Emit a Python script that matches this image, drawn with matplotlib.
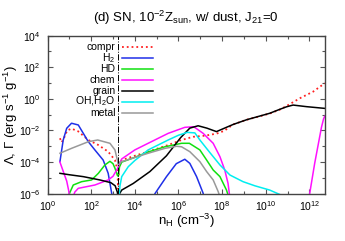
import numpy as np
import matplotlib
matplotlib.use("Agg")
import matplotlib.pyplot as plt
from matplotlib.ticker import LogLocator, FuncFormatter, NullFormatter

plt.rcParams["font.family"] = ["Liberation Sans", "DejaVu Sans"]
plt.rcParams["mathtext.fontset"] = "custom"
plt.rcParams["mathtext.rm"] = "Liberation Sans"
plt.rcParams["mathtext.it"] = "Liberation Sans:italic"
plt.rcParams["mathtext.default"] = "regular"

# ── Data (log10 n_H, log10 rate) ────────────────────────────────────────────
compr_logn = [0.57, 0.65, 0.75, 0.9, 1.1, 1.4, 1.87, 2.33, 2.78, 3.09, 3.2, 3.24,
              3.28, 3.4, 4.0, 4.61, 5.53, 6.14, 6.67, 7.2, 7.74, 8.1, 8.5, 9.12,
              10.18, 10.64, 10.95, 11.56, 12.17, 12.7]
compr_logL = [-2.49, -2.75, -2.5, -2.0, -1.88, -2.05, -2.6, -2.92, -3.34, -3.87, -4.5, -5.7,
              -4.2, -3.87, -3.6, -3.34, -2.92, -2.6, -2.4, -2.33, -2.2, -2.02, -1.62, -1.32,
              -0.93, -0.68, -0.45, 0.04, 0.46, 0.99]

h2_logn = [0.57, 0.72, 0.88, 1.1, 1.41, 1.87, 2.17, 2.55, 2.78, 2.94, 3.0,
           4.85, 4.92, 5.45, 5.9, 6.29, 6.52, 6.83, 7.13, 7.2]
h2_logL = [-3.97, -2.6, -1.86, -1.54, -1.65, -2.71, -3.23, -3.87, -4.71, -5.97, -6.5,
           -6.5, -6.0, -4.92, -4.1, -3.82, -4.08, -4.92, -5.97, -6.5]

hd_logn = [0.95, 1.0, 1.18, 1.56, 2.02, 2.33, 2.63, 2.86, 3.0, 3.09, 3.2, 3.24,
           3.3, 3.4, 4.0, 4.61, 5.38, 6.14, 6.5, 6.98, 7.29, 7.59, 7.9, 8.2, 8.3]
hd_logL = [-6.3, -6.0, -5.45, -5.24, -5.13, -4.71, -4.18, -3.95, -4.1, -4.39, -4.8, -4.9,
           -4.3, -4.0, -3.7, -3.36, -3.03, -2.81, -2.81, -3.23, -3.87, -4.5, -4.92, -5.77, -6.2]

chem_logn = [0.57, 0.75, 0.88, 0.97, 1.02, None,
             1.15, 1.25, 1.41, 2.17, 2.78, 3.0, 3.17, 3.24, 3.4, 4.0, 4.61, 5.53, 6.29,
             6.7, 7.13, 7.59, 7.9, 8.12, 8.27, 8.35, None,
             11.98, 12.01, 12.24, 12.47, 12.55, 12.65, 12.7]
chem_logL = [-4.0, -4.7, -5.2, -5.8, -6.3, None,
             -6.3, -5.9, -5.66, -5.45, -5.13, -4.9, -4.5, -4.3, -3.8, -3.23, -2.81, -2.18, -1.8,
             -1.76, -2.18, -2.81, -3.66, -4.5, -5.34, -6.2, None,
             -6.5, -6.0, -4.08, -2.39, -1.8, -1.25, -1.1]

grain_logn = [0.57, 1.0, 1.64, 2.4, 2.9, 3.1, 3.2, 3.24, 3.3, 3.4, 3.93, 4.69, 5.45,
              6.1, 6.52, 6.9, 7.3, 7.74, 8.5, 9.12, 10.18, 10.64, 10.95, 11.25, 11.86, 12.7]
grain_logL = [-4.71, -4.8, -4.92, -5.13, -5.3, -5.5, -5.9, -6.3, -6.0, -5.77, -5.35, -4.6, -3.6,
              -2.45, -1.85, -1.7, -1.85, -2.07, -1.62, -1.32, -0.91, -0.66, -0.5, -0.39, -0.49, -0.6]

ohh2o_logn = [3.26, 3.32, 3.4, 3.7, 4.0, 4.61, 5.53, 6.0, 6.4, 6.75, 6.98, 7.44,
              7.9, 8.36, 8.96, 9.5, 10.18, 10.64]
ohh2o_logL = [-6.5, -5.5, -4.92, -4.29, -3.9, -3.23, -2.6, -2.3, -2.12, -2.15, -2.6, -3.4,
              -4.18, -4.82, -5.24, -5.5, -5.77, -6.05]

metal_logn = [0.57, 1.1, 1.87, 2.3, 2.86, 3.09, 3.2, 3.24, 3.3, 3.4, 4.61, 5.38, 5.91,
              6.14, 6.52, 6.98, 7.29, 7.59, 7.82, 7.9]
metal_logL = [-3.44, -3.13, -2.71, -2.6, -2.81, -3.23, -3.87, -4.2, -4.0, -3.97, -3.44, -3.13, -3.0,
              -3.03, -3.34, -3.97, -4.6, -5.13, -5.87, -6.2]

n_crit = 1.75e3  # vertical dash-dot marker

series = [
    ("compr", compr_logn, compr_logL, "#ff2020", ":"),
    ("H$_2$", h2_logn, h2_logL, "#1f2fe8", "-"),
    ("HD", hd_logn, hd_logL, "#10e010", "-"),
    ("chem", chem_logn, chem_logL, "#ff10ff", "-"),
    ("grain", grain_logn, grain_logL, "#000000", "-"),
    ("OH,H$_2$O", ohh2o_logn, ohh2o_logL, "#00eef0", "-"),
    ("metal", metal_logn, metal_logL, "#999999", "-"),
]


def to_lin(vals):
    return np.array([np.nan if v is None else 10.0 ** v for v in vals])


# ── Figure ───────────────────────────────────────────────────────────────────
W, H = 345, 241
fig = plt.figure(figsize=(W / 100, H / 100), dpi=100)
ax = fig.add_axes([47.5 / W, 1 - 193.7 / H, 277.2 / W, 158 / H])

for label, xs, ys, color, ls in series:
    lw = 1.3 if ls == ":" else 1.1
    ax.plot(to_lin(xs), to_lin(ys), color=color, ls=ls, lw=lw)

ax.axvline(n_crit, color="black", ls="-.", lw=0.7)

ax.set_xscale("log")
ax.set_yscale("log")
ax.set_xlim(1, 5e12)
ax.set_ylim(1e-6, 1e4)

fmt = FuncFormatter(lambda v, p: "10$^{%d}$" % round(np.log10(v)))
ax.xaxis.set_major_locator(LogLocator(base=100.0, numticks=20))
ax.yaxis.set_major_locator(LogLocator(base=100.0, numticks=20))
ax.xaxis.set_minor_locator(LogLocator(base=100.0, subs=(10.0,), numticks=20))
ax.yaxis.set_minor_locator(LogLocator(base=100.0, subs=(10.0,), numticks=20))
ax.xaxis.set_major_formatter(fmt)
ax.yaxis.set_major_formatter(fmt)
ax.xaxis.set_minor_formatter(NullFormatter())
ax.yaxis.set_minor_formatter(NullFormatter())
ax.tick_params(which="both", direction="in", top=True, right=True,
               labelsize=7.5, color="#555555")
ax.tick_params(axis="y", pad=5)
ax.tick_params(axis="x", pad=4)
ax.tick_params(which="major", length=3.5, width=0.8)
ax.tick_params(which="minor", length=2.2, width=0.8)
for s in ax.spines.values():
    s.set_color("#444444")
    s.set_linewidth(1.0)

# legend, drawn by hand: labels right-aligned, handle to the right
for i, (label, xs, ys, color, ls) in enumerate(series):
    yy = 1 - (11.0 + 11.0 * i) / 158
    ax.text(0.245, yy, label, transform=ax.transAxes, ha="right", va="center",
            fontsize=7.5)
    lw = 1.3 if ls == ":" else 1.1
    ax.plot([0.268, 0.381], [yy, yy], transform=ax.transAxes, color=color,
            ls=ls, lw=lw)

fig.text(186 / W, 1 - 21.7 / H,
         "(d) SN, 10$^{-2}$Z$_{sun}$, w/ dust, J$_{21}$=0",
         ha="center", va="baseline", fontsize=9.5)
fig.text(186 / W, 1 - 225 / H, "n$_H$ (cm$^{-3}$)",
         ha="center", va="baseline", fontsize=9.5)
fig.text(11 / W, 1 - 114.7 / H, "Λ, Γ (erg s$^{-1}$ g$^{-1}$)",
         ha="center", va="center", rotation=90, fontsize=9.5)

fig.savefig("out.png", dpi=100)
